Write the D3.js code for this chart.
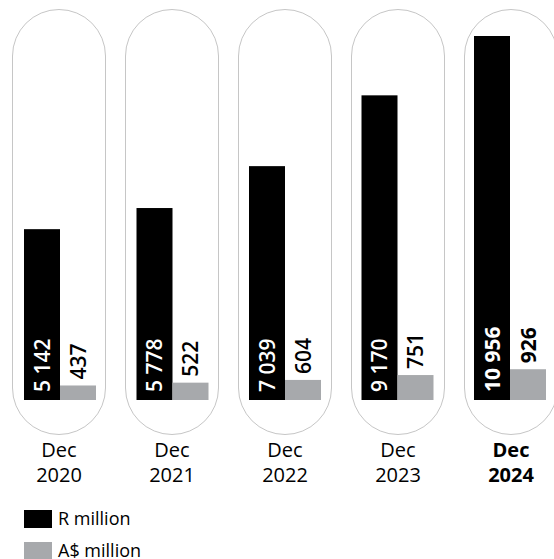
<!DOCTYPE html>
<html lang="en">
<head>
  <meta charset="utf-8">
  <title>R and A$ million</title>
  <script src="https://d3js.org/d3.v7.min.js"></script>
</head>
<style>
  body { margin: 0; background: #fff; }
  text { font-family: "Open Sans", sans-serif; }
</style>
<body>
  <div class="chart"></div>
</body>
<script>
var years = ["2020", "2021", "2022", "2023", "2024"];
var randValues = [5142, 5778, 7039, 9170, 10956];
var audValues = [437, 522, 604, 751, 926];
var randLabels = ["5 142", "5 778", "7 039", "9 170", "10 956"];
var audLabels = ["437", "522", "604", "751", "926"];
var legendLabels = ["R million", "A$ million"];

var width = 554;
var height = 559;
var baseline = 400;

var svg = d3.select(".chart")
  .append("svg")
  .attr("width", width)
  .attr("height", height);

// one capsule per year
var pill = d3.scaleBand()
  .domain(years)
  .range([12, 12 + 113 * 4 + 94])
  .paddingInner(19 / 113);

var bar = d3.scaleBand()
  .domain(years)
  .range([24, 24 + 112.5 * 4 + 72])
  .paddingInner(40.5 / 112.5);

var y = d3.scaleLinear()
  .domain([0, 10956])
  .range([baseline, 36]);

svg.selectAll(".pill")
  .data(years)
  .enter().append("rect")
  .attr("class", "pill")
  .attr("x", function(d){ return pill(d) + 0.5; })
  .attr("y", 9.5)
  .attr("width", pill.bandwidth() - 1)
  .attr("height", 425)
  .attr("rx", 46.5)
  .attr("ry", 46.5)
  .attr("fill", "none")
  .attr("stroke", "#c6c6c6")
  .attr("stroke-width", 1);

var half = bar.bandwidth() / 2;

// R million bars
svg.selectAll(".rbar")
  .data(years)
  .enter().append("rect")
  .attr("class", "rbar")
  .attr("x", function(d){ return bar(d); })
  .attr("y", function(d, i){ return y(randValues[i]); })
  .attr("width", half)
  .attr("height", function(d, i){ return baseline - y(randValues[i]); })
  .attr("fill", "#000");

// A$ million bars
svg.selectAll(".abar")
  .data(years)
  .enter().append("rect")
  .attr("class", "abar")
  .attr("x", function(d){ return bar(d) + half; })
  .attr("y", function(d, i){ return y(audValues[i]); })
  .attr("width", half)
  .attr("height", function(d, i){ return baseline - y(audValues[i]); })
  .attr("fill", "#a7a9ac");

// value labels, rotated
svg.selectAll(".rlabel")
  .data(years)
  .enter().append("text")
  .attr("class", "rlabel")
  .attr("transform", function(d){
    return "translate(" + (bar(d) + half / 2) + "," + (baseline - 8) + ") rotate(-90)";
  })
  .attr("dy", "0.36em")
  .attr("fill", "#fff")
  .style("font-size", "21px")
  .style("font-weight", function(d, i){ return i === 4 ? "bold" : 600; })
  .text(function(d, i){ return randLabels[i]; });

svg.selectAll(".alabel")
  .data(years)
  .enter().append("text")
  .attr("class", "alabel")
  .attr("transform", function(d, i){
    return "translate(" + (bar(d) + half * 1.5) + "," + (y(audValues[i]) - 6) + ") rotate(-90)";
  })
  .attr("dy", "0.36em")
  .attr("fill", "#000")
  .style("font-size", "21px")
  .style("font-weight", function(d, i){ return i === 4 ? "bold" : 600; })
  .text(function(d, i){ return audLabels[i]; });

// category labels
var cat = svg.selectAll(".cat")
  .data(years)
  .enter().append("text")
  .attr("class", "cat")
  .attr("x", function(d){ return pill(d) + pill.bandwidth() / 2; })
  .attr("y", 457)
  .attr("text-anchor", "middle")
  .attr("fill", "#000")
  .style("font-size", "20px")
  .style("font-weight", function(d, i){ return i === 4 ? "bold" : "normal"; });

cat.append("tspan")
  .attr("x", function(d){ return pill(d) + pill.bandwidth() / 2; })
  .text("Dec");
cat.append("tspan")
  .attr("x", function(d){ return pill(d) + pill.bandwidth() / 2; })
  .attr("dy", 25)
  .text(function(d){ return d; });

// legend
var legendColors = ["#000", "#a7a9ac"];
var legend = svg.selectAll(".legend")
  .data(legendLabels)
  .enter().append("g")
  .attr("class", "legend")
  .attr("transform", function(d, i){ return "translate(24," + (510 + i * 32) + ")"; });

legend.append("rect")
  .attr("width", 28)
  .attr("height", 18)
  .attr("fill", function(d, i){ return legendColors[i]; });

legend.append("text")
  .attr("x", 34)
  .attr("y", 15)
  .style("font-size", "18px")
  .attr("fill", "#000")
  .text(function(d){ return d; });
</script>
</html>
